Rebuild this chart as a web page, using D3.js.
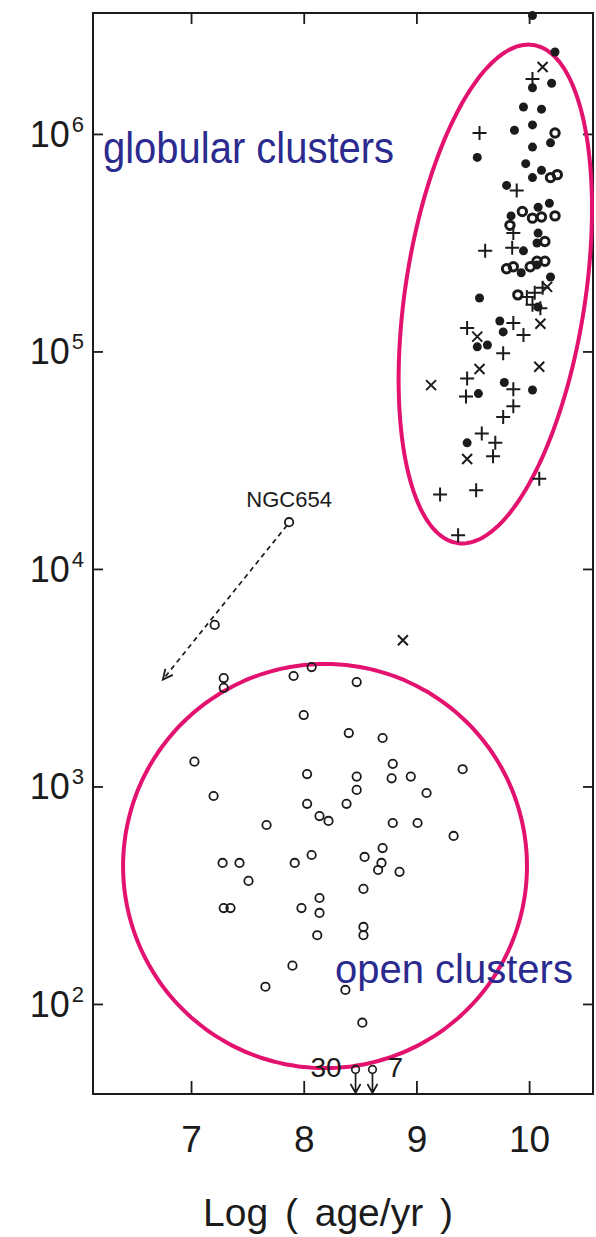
<!DOCTYPE html>
<html>
<head>
<meta charset="utf-8">
<script src="https://cdn.jsdelivr.net/npm/d3@7"></script>
<style>
  html, body { margin: 0; padding: 0; background: #fff; }
  svg { display: block; font-family: "Liberation Sans", Arial, Helvetica, sans-serif; }
</style>
</head>
<body>
<svg id="chart" width="596" height="1237"></svg>
<script>
// ---------- DATA (log age, mass in solar masses) ----------
const xTicks = [7, 8, 9, 10];
const yTickExp = [2, 3, 4, 5, 6];

// globular clusters: filled dots
const globDots = [
  [10.03, 3.5e6], [10.23, 2.38e6], [10.03, 1.63e6], [10.20, 1.71e6], [9.95, 1.33e6],
  [10.11, 1.30e6], [9.87, 1.04e6], [10.03, 1.10e6], [10.19, 9.1e5], [9.54, 7.8e5],
  [10.03, 8.7e5], [9.97, 7.3e5], [10.03, 6.3e5], [10.11, 6.8e5], [9.80, 5.8e5],
  [9.84, 4.2e5], [10.08, 4.6e5], [10.18, 4.8e5], [10.08, 3.5e5], [10.07, 3.15e5],
  [9.95, 2.9e5], [9.93, 2.3e5], [10.07, 2.5e5], [10.19, 2.2e5], [9.56, 1.76e5],
  [10.08, 1.60e5], [9.74, 1.38e5], [9.77, 1.23e5], [9.54, 1.05e5], [9.63, 1.07e5],
  [9.78, 7.2e4], [10.03, 6.65e4], [9.55, 6.4e4], [9.45, 3.8e4]
];
// globular clusters: heavy open rings
const globRings = [
  [10.23, 1.01e6], [10.19, 6.3e5], [10.25, 6.5e5], [9.94, 4.4e5], [10.03, 4.1e5],
  [10.11, 4.15e5], [10.23, 4.2e5], [9.83, 3.8e5], [10.14, 3.2e5], [10.07, 2.6e5],
  [9.80, 2.4e5], [9.86, 2.45e5], [10.01, 2.45e5], [10.14, 2.6e5], [9.90, 1.82e5]
];
// globular clusters: plus signs
const globPlus = [
  [10.03, 1.79e6], [9.56, 1.01e6], [9.89, 5.5e5], [9.86, 3.5e5], [9.61, 2.9e5],
  [9.85, 3.0e5], [9.98, 1.78e5], [10.05, 1.86e5], [10.12, 1.96e5], [10.03, 1.64e5],
  [10.10, 1.58e5], [9.45, 1.28e5], [9.86, 1.35e5], [9.95, 1.19e5], [9.77, 9.8e4],
  [9.45, 7.5e4], [9.86, 6.7e4], [9.44, 6.2e4], [9.86, 5.6e4], [9.77, 5.0e4],
  [9.58, 4.2e4], [9.70, 3.8e4], [9.68, 3.3e4], [9.21, 2.2e4], [9.53, 2.3e4],
  [10.09, 2.6e4], [9.37, 1.43e4]
];
// globular clusters: crosses
const globCross = [
  [10.12, 2.03e6], [10.16, 1.98e5], [10.10, 1.34e5], [9.54, 1.17e5], [9.56, 8.3e4],
  [10.09, 8.5e4], [9.13, 7.0e4], [9.45, 3.2e4], [8.88, 4.7e3]
];
// open clusters
const openClusters = [
  [7.87, 16400], [7.21, 5530], [7.29, 3150], [7.29, 2840], [7.91, 3220], [8.07, 3540],
  [8.47, 3020], [8.00, 2130], [8.40, 1760], [8.70, 1670], [7.03, 1300], [8.79, 1270],
  [9.41, 1200], [8.03, 1140], [8.47, 1110], [8.78, 1090], [8.95, 1110], [7.20, 904],
  [9.09, 933], [8.47, 964], [8.03, 832], [8.38, 832], [8.14, 731], [8.22, 694],
  [7.67, 665], [8.79, 679], [9.01, 679], [9.33, 592], [8.70, 521], [7.28, 445],
  [7.43, 445], [7.92, 445], [8.07, 484], [8.54, 474], [8.69, 445], [8.66, 413],
  [8.85, 405], [7.51, 368], [8.53, 338], [7.29, 276], [7.35, 276], [8.14, 307],
  [7.98, 276], [8.14, 262], [8.12, 207], [8.53, 226], [8.53, 207], [7.90, 150],
  [7.66, 120], [8.37, 116], [8.52, 82]
];
// open clusters: upper limits (with counts)
const openLimits = [[8.46, 50], [8.61, 50]];
const limitLabels = ["30", "7"];

// NGC654 annotation: from its point to the arrow tip
const ngcFrom = [7.87, 16400];
const ngcTo = [6.75, 3100];

// ---------- LAYOUT ----------
const svg = d3.select("#chart");
const L = 93, R = 593, T = 13, B = 1094;
const x = d3.scaleLinear().domain([6.13, 10.567]).range([L, R]);
const y = d3.scaleLog().domain([Math.pow(10, 1.586), Math.pow(10, 6.556)]).range([B, T]);

const ink = "#1b1b1b";
const pink = "#e3126f";
const navy = "#2b2b8f";

// ---------- AXES ----------
const gBottom = svg.append("g").attr("transform", `translate(0,${B})`)
  .call(d3.axisBottom(x).tickValues(xTicks).tickSize(-13).tickPadding(32).tickFormat(d3.format("d")));
const gTop = svg.append("g").attr("transform", `translate(0,${T})`)
  .call(d3.axisTop(x).tickValues(xTicks).tickSize(-11).tickFormat(""));
const yTickVals = yTickExp.map(e => Math.pow(10, e));
const gLeft = svg.append("g").attr("transform", `translate(${L},0)`)
  .call(d3.axisLeft(y).tickValues(yTickVals).tickSize(-10).tickFormat(""));
const gRight = svg.append("g").attr("transform", `translate(${R},0)`)
  .call(d3.axisRight(y).tickValues(yTickVals).tickSize(-10).tickFormat(""));

[gBottom, gTop, gLeft, gRight].forEach(g => {
  g.select(".domain").remove();
  g.selectAll(".tick line").attr("stroke", ink).attr("stroke-width", 1.8);
});
gBottom.selectAll(".tick text").attr("fill", ink).attr("font-size", 37)
  .attr("font-family", "'Liberation Sans', Arial, sans-serif");

svg.append("rect").attr("x", L).attr("y", T).attr("width", R - L).attr("height", B - T)
  .attr("fill", "none").attr("stroke", ink).attr("stroke-width", 2);

// y tick labels 10^n
const yl = svg.append("g");
yTickExp.forEach(e => {
  const t = yl.append("text").attr("x", 84).attr("y", y(Math.pow(10, e)) + 13)
    .attr("text-anchor", "end").attr("fill", ink);
  t.append("tspan").attr("font-size", 36).text("10");
  t.append("tspan").attr("font-size", 22).attr("dy", -15).attr("dx", 2).text(String(e));
});

// x axis title
svg.append("text").attr("x", 328).attr("y", 1226).attr("text-anchor", "middle")
  .attr("font-size", 39).attr("fill", ink).style("word-spacing", "6px")
  .text("Log ( age/yr )");

// ---------- REGIONS ----------
const tt = d3.range(0, 2 * Math.PI, Math.PI / 90);
// globular ellipse (tilted, in log-age / log-mass space)
const gC = [9.70, 5.264], gA = [0.337, 1.145], gB = [0.789, -0.0625];
const globPath = tt.map(t => [
  x(gC[0] + gA[0] * Math.cos(t) + gB[0] * Math.sin(t)),
  y(Math.pow(10, gC[1] + gA[1] * Math.cos(t) + gB[1] * Math.sin(t)))
]);
// open cluster circle
const oC = [8.189, 2.634], oRx = 1.792, oRy = 0.929;
const openPath = tt.map(t => [
  x(oC[0] + oRx * Math.cos(t)),
  y(Math.pow(10, oC[1] + oRy * Math.sin(t)))
]);
const line = d3.line().curve(d3.curveCardinalClosed);
svg.append("path").attr("d", line(globPath)).attr("fill", "none")
  .attr("stroke", pink).attr("stroke-width", 4);
svg.append("path").attr("d", line(openPath)).attr("fill", "none")
  .attr("stroke", pink).attr("stroke-width", 4);

// ---------- MARKERS ----------
const gm = svg.append("g");
gm.selectAll("circle.ring").data(globRings).join("circle").attr("class", "ring")
  .attr("cx", d => x(d[0])).attr("cy", d => y(d[1])).attr("r", 4.2)
  .attr("fill", "none").attr("stroke", ink).attr("stroke-width", 3);
gm.selectAll("circle.dot").data(globDots).join("circle").attr("class", "dot")
  .attr("cx", d => x(d[0])).attr("cy", d => y(d[1])).attr("r", 4.5).attr("fill", ink);
gm.selectAll("path.plus").data(globPlus).join("path").attr("class", "plus")
  .attr("transform", d => `translate(${x(d[0])},${y(d[1])})`)
  .attr("d", "M-7,0H7M0,-7V7").attr("stroke", ink).attr("stroke-width", 2).attr("fill", "none");
gm.selectAll("path.cross").data(globCross).join("path").attr("class", "cross")
  .attr("transform", d => `translate(${x(d[0])},${y(d[1])})`)
  .attr("d", "M-5,-5L5,5M-5,5L5,-5").attr("stroke", ink).attr("stroke-width", 2).attr("fill", "none");

const om = svg.append("g");
om.selectAll("circle").data(openClusters).join("circle")
  .attr("cx", d => x(d[0])).attr("cy", d => y(d[1])).attr("r", 4.2)
  .attr("fill", "none").attr("stroke", ink).attr("stroke-width", 1.8);

// upper limits
const lm = svg.append("g");
openLimits.forEach(d => {
  const cx = x(d[0]), cy = y(d[1]);
  lm.append("circle").attr("cx", cx).attr("cy", cy).attr("r", 3.8)
    .attr("fill", "none").attr("stroke", ink).attr("stroke-width", 1.6);
  lm.append("path").attr("d", `M${cx},${cy + 3.8}V${B - 1}M${cx - 5},${B - 10}L${cx},${B - 1}L${cx + 5},${B - 10}`)
    .attr("fill", "none").attr("stroke", ink).attr("stroke-width", 1.7);
});
lm.append("text").attr("x", x(openLimits[0][0]) - 14).attr("y", y(openLimits[0][1]) + 8)
  .attr("text-anchor", "end").attr("font-size", 28).attr("fill", ink).text(limitLabels[0]);
lm.append("text").attr("x", x(openLimits[1][0]) + 15).attr("y", y(openLimits[1][1]) + 8)
  .attr("text-anchor", "start").attr("font-size", 28).attr("fill", ink).text(limitLabels[1]);

// NGC654 annotation
const a0 = [x(ngcFrom[0]) - 2, y(ngcFrom[1]) + 3], a1 = [x(ngcTo[0]), y(ngcTo[1])];
svg.append("line").attr("x1", a0[0]).attr("y1", a0[1]).attr("x2", a1[0]).attr("y2", a1[1])
  .attr("stroke", ink).attr("stroke-width", 1.7).attr("stroke-dasharray", "5,4");
const ang = Math.atan2(a0[1] - a1[1], a0[0] - a1[0]);
const hl = 11, hw = 0.45;
svg.append("path").attr("d",
  `M${a1[0] + hl * Math.cos(ang + hw)},${a1[1] + hl * Math.sin(ang + hw)}L${a1[0]},${a1[1]}L${a1[0] + hl * Math.cos(ang - hw)},${a1[1] + hl * Math.sin(ang - hw)}`)
  .attr("fill", "none").attr("stroke", ink).attr("stroke-width", 1.8);
svg.append("text").attr("x", x(ngcFrom[0])).attr("y", y(ngcFrom[1]) - 15)
  .attr("text-anchor", "middle").attr("font-size", 22).attr("fill", ink).text("NGC654");

// region labels
svg.append("text").attr("transform", "translate(103,163) scale(0.93,1.05)")
  .attr("font-size", 43).attr("fill", navy).text("globular clusters");
svg.append("text").attr("x", 335).attr("y", 983)
  .attr("font-size", 40).attr("fill", navy).text("open clusters");
</script>
</body>
</html>
